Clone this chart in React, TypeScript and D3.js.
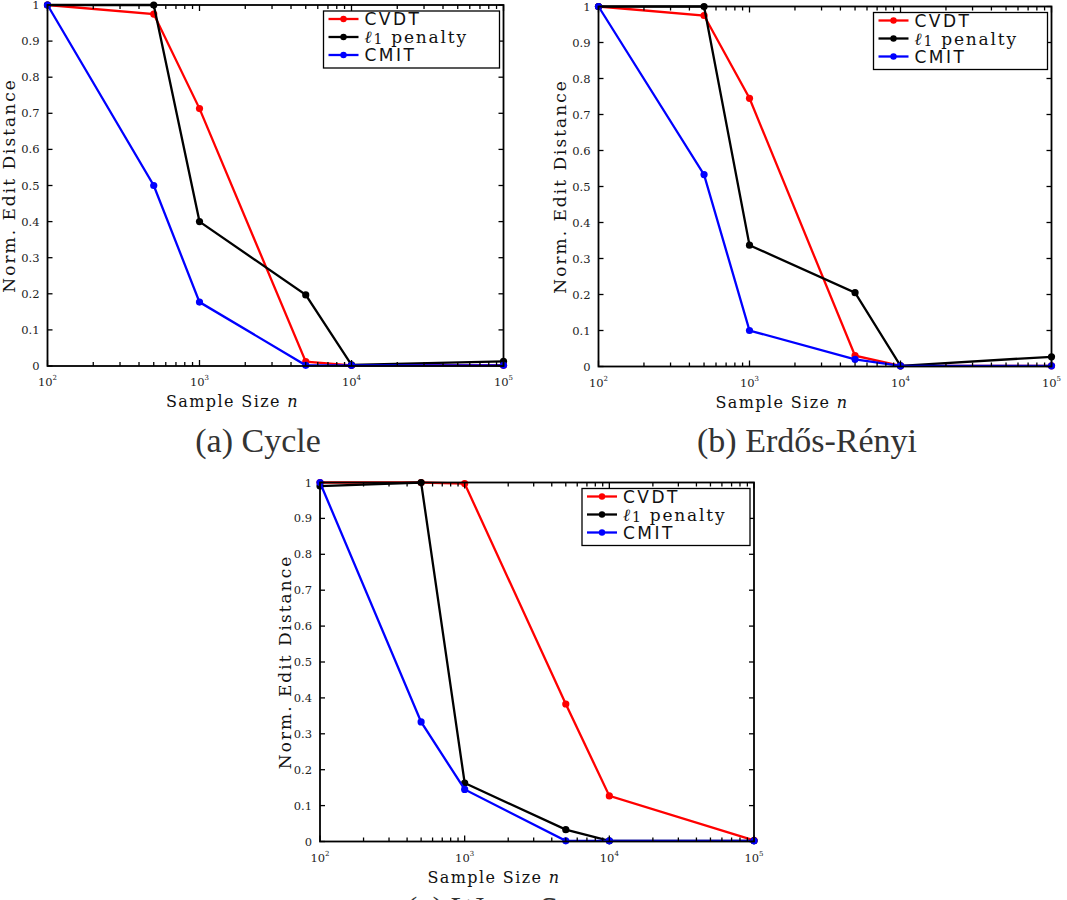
import React from "react";
import * as d3 from "d3";

// ---------- data ----------
const sampleSizes = [100, 500, 1000, 5000, 10000, 100000];
const seriesNames = ["CVDT", "l1", "CMIT"];
const seriesColors = ["#ff0000", "#000000", "#0000ff"];

const cycleCVDT = [1.0, 0.975, 0.713, 0.012, 0.002, 0.002];
const cycleL1 = [1.0, 1.0, 0.4, 0.197, 0.003, 0.013];
const cycleCMIT = [1.0, 0.5, 0.177, 0.002, 0.002, 0.002];

const erCVDT = [1.0, 0.975, 0.745, 0.03, 0.002, 0.002];
const erL1 = [1.0, 1.0, 0.337, 0.205, 0.002, 0.027];
const erCMIT = [1.0, 0.533, 0.1, 0.02, 0.002, 0.002];

const wsCVDT = [1.0, 1.0, 0.997, 0.383, 0.127, 0.003];
const wsL1 = [0.99, 1.0, 0.163, 0.033, 0.002, 0.002];
const wsCMIT = [1.0, 0.333, 0.145, 0.002, 0.002, 0.002];

const yTickValues = [0, 0.1, 0.2, 0.3, 0.4, 0.5, 0.6, 0.7, 0.8, 0.9, 1];
const yTickLabels = ["0", "0.1", "0.2", "0.3", "0.4", "0.5", "0.6", "0.7", "0.8", "0.9", "1"];
const xMajorExponents = [2, 3, 4, 5];

const captions = ["(a) Cycle", "(b) Erdős-Rényi", "(c) Watts-Strogatz"];
const yAxisTitle = "Norm. Edit Distance";

// ---------- panel ----------
type PanelProps = {
  left: number;
  top: number;
  width: number;
  height: number;
  values: number[][];
  legendW: number;
  yLabelX: number;
  caption: string;
  captionX: number;
  captionY: number;
};

const serif = "'DejaVu Serif', serif";
const sans = "'DejaVu Sans', sans-serif";
const capFont = "'Liberation Serif', serif";

function Panel(p: PanelProps) {
  const x = d3.scaleLog().domain([100, 100000]).range([0, p.width]);
  const y = d3.scaleLinear().domain([0, 1]).range([p.height, 0]);
  const line = d3
    .line<number>()
    .x((_, i) => x(sampleSizes[i]))
    .y((v) => y(v));

  const minor: number[] = [];
  [100, 1000, 10000].forEach((d) => {
    for (let k = 2; k <= 9; k++) minor.push(d * k);
  });

  const lx = p.width - p.legendW - 4;
  const ly = 6;
  const rowY = [8, 26, 44];

  return (
    <g transform={`translate(${p.left},${p.top})`}>
      {/* lines */}
      {p.values.map((vals, si) => (
        <g key={si}>
          <path d={line(vals) || ""} fill="none" stroke={seriesColors[si]} strokeWidth={2.3} />
          {vals.map((v, i) => (
            <circle key={i} cx={x(sampleSizes[i])} cy={y(v)} r={3.6} fill={seriesColors[si]} />
          ))}
        </g>
      ))}
      {/* frame */}
      <rect x={0} y={0} width={p.width} height={p.height} fill="none" stroke="#000" strokeWidth={1.8} />
      {/* y ticks */}
      {yTickValues.map((v, i) => (
        <g key={i}>
          <line x1={0} x2={5} y1={y(v)} y2={y(v)} stroke="#000" strokeWidth={1.3} />
          <line x1={p.width} x2={p.width - 5} y1={y(v)} y2={y(v)} stroke="#000" strokeWidth={1.3} />
          <text
            x={-8}
            y={y(v)}
            textAnchor="end"
            dominantBaseline="central"
            fontFamily={serif}
            fontSize={11.5}
            fill="#222"
          >
            {yTickLabels[i]}
          </text>
        </g>
      ))}
      {/* x ticks */}
      {minor.map((v, i) => (
        <g key={"m" + i}>
          <line x1={x(v)} x2={x(v)} y1={p.height} y2={p.height - 4} stroke="#000" strokeWidth={1.3} />
          <line x1={x(v)} x2={x(v)} y1={0} y2={4} stroke="#000" strokeWidth={1.3} />
        </g>
      ))}
      {xMajorExponents.map((e) => {
        const v = Math.pow(10, e);
        return (
          <g key={"M" + e}>
            <line x1={x(v)} x2={x(v)} y1={p.height} y2={p.height - 6} stroke="#000" strokeWidth={1.3} />
            <line x1={x(v)} x2={x(v)} y1={0} y2={6} stroke="#000" strokeWidth={1.3} />
            <text x={x(v)} y={p.height + 20} textAnchor="middle" fontFamily={serif} fontSize={11.5} fill="#222">
              10
              <tspan fontSize={7} dy={-6}>
                {String(e)}
              </tspan>
            </text>
          </g>
        );
      })}
      {/* axis titles */}
      <text
        x={p.width / 2 - 43}
        y={p.height + 41}
        textAnchor="middle"
        fontFamily={serif}
        fontSize={16}
        letterSpacing={1.4}
        fill="#111"
      >
        Sample Size <tspan fontStyle="italic">n</tspan>
      </text>
      <text
        transform={`translate(${p.yLabelX - p.left},${p.height / 2}) rotate(-90)`}
        textAnchor="middle"
        dominantBaseline="central"
        fontFamily={serif}
        fontSize={17}
        letterSpacing={2}
        fill="#111"
      >
        {yAxisTitle}
      </text>
      {/* legend */}
      <g transform={`translate(${lx},${ly})`}>
        <rect x={0} y={0} width={p.legendW} height={57} fill="#fff" stroke="#000" strokeWidth={1.3} />
        {seriesNames.map((n, i) => (
          <g key={n} transform={`translate(0,${rowY[i]})`}>
            <line x1={5} x2={35} y1={0} y2={0} stroke={seriesColors[i]} strokeWidth={2.3} />
            <circle cx={20} cy={0} r={3.2} fill={seriesColors[i]} />
            {n === "l1" ? (
              <text x={41} y={0} dominantBaseline="central" fontFamily={serif} fontSize={17} letterSpacing={1.8} fill="#111">
                <tspan fontStyle="italic">ℓ</tspan>
                <tspan fontSize={14} dy={2}>1</tspan>
                <tspan dy={-2}> penalty</tspan>
              </text>
            ) : (
              <text x={41} y={0} dominantBaseline="central" fontFamily={sans} fontSize={17} letterSpacing={2.5} fill="#111">
                {n}
              </text>
            )}
          </g>
        ))}
      </g>
      {/* caption */}
      <text
        x={p.captionX - p.left}
        y={p.captionY - p.top}
        textAnchor={p.caption.startsWith("(c)") ? "start" : "middle"}
        fontFamily={capFont}
        fontSize={34}
        fill="#333"
      >
        {p.caption}
      </text>
    </g>
  );
}

export default function App() {
  return (
    <svg
      width={1067}
      height={900}
      style={{ position: "absolute", left: 0, top: 0, background: "#fff" }}
    >
      <rect x={0} y={0} width={1067} height={900} fill="#fff" />
      <Panel
        left={47.5}
        top={5}
        width={456}
        height={361}
        values={[cycleCVDT, cycleL1, cycleCMIT]}
        legendW={176}
        yLabelX={8.5}
        caption={captions[0]}
        captionX={258}
        captionY={452}
      />
      <Panel
        left={598.5}
        top={6.5}
        width={453}
        height={360}
        values={[erCVDT, erL1, erCMIT]}
        legendW={174}
        yLabelX={560}
        caption={captions[1]}
        captionX={807}
        captionY={452}
      />
      <Panel
        left={320}
        top={482.5}
        width={434}
        height={359}
        values={[wsCVDT, wsL1, wsCMIT]}
        legendW={168}
        yLabelX={285}
        caption={captions[2]}
        captionX={406}
        captionY={920}
      />
    </svg>
  );
}
